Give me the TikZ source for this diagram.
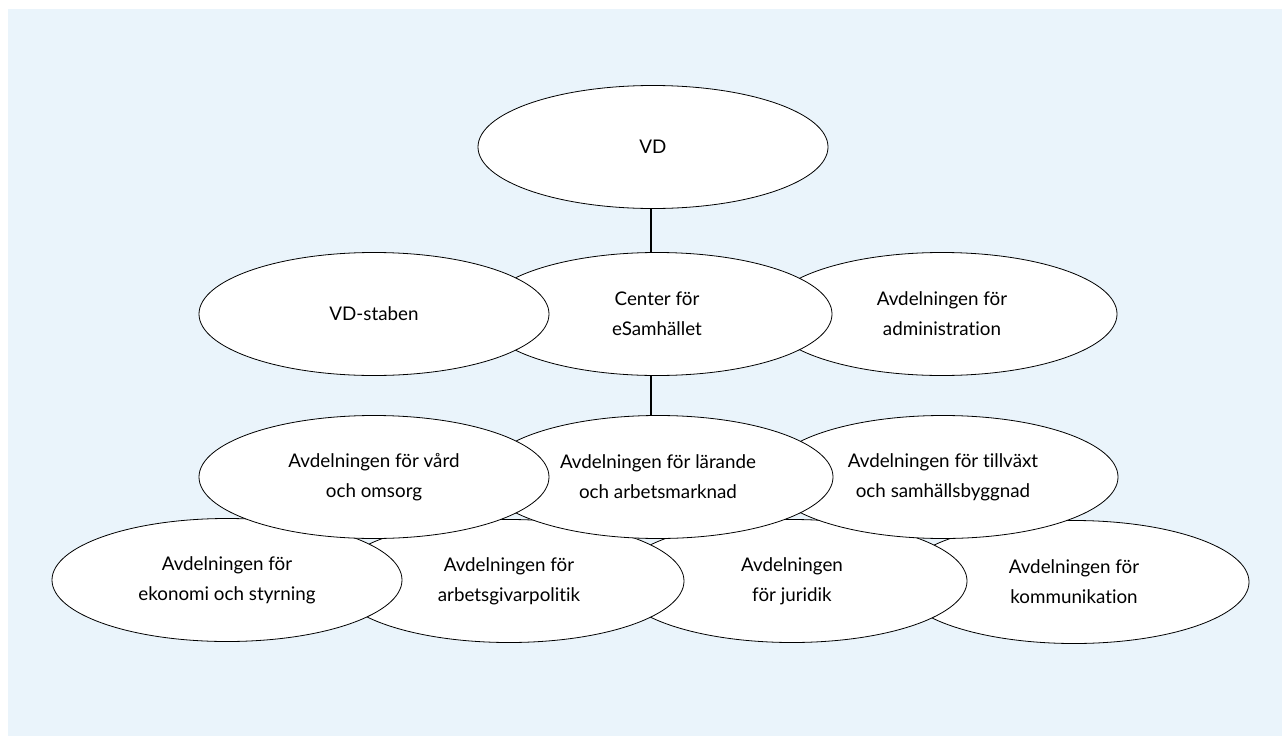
\documentclass[tikz,border=0pt]{standalone}
\usepackage{fontspec}
\setmainfont{Lato}[Ligatures=NoCommon]
\usetikzlibrary{shapes.geometric}
\definecolor{bgblue}{HTML}{EAF4FB}
\tikzset{
  unit/.style={ellipse, draw=black, line width=0.8pt, fill=white,
    minimum width=350pt, minimum height=123pt, inner sep=0pt,
    align=center, font=\fontsize{18.8}{30}\selectfont},
  link/.style={draw=black, line width=2pt}
}
\begin{document}
\begin{tikzpicture}[x=1pt,y=-1pt]
\useasboundingbox (0,0) rectangle (1282,736);
\fill[bgblue] (8,9) rectangle (1282,736);
% row 4 (drawn right to left, left ellipses on top)
\node[unit] (komm) at (1074,582) {Avdelningen för\\kommunikation};
\node[unit] (jur)  at (792,581) {Avdelningen\\för juridik};
\node[unit] (arb)  at (509,581) {Avdelningen för\\arbetsgivarpolitik};
\node[unit] (eko)  at (227,580) {Avdelningen för\\ekonomi och styrning};
% row 3
\node[unit] (till) at (943,477) {Avdelningen för tillväxt\\och samhällsbyggnad};
\node[unit] (lar)  at (658,477) {Avdelningen för lärande\\och arbetsmarknad};
\node[unit] (vard) at (374,477) {Avdelningen för vård\\och omsorg};
% row 2
\node[unit] (adm)  at (942,314) {Avdelningen för\\administration};
\node[unit] (cen)  at (657,314) {Center för\\eSamhället};
\node[unit] (stab) at (374,314) {VD-staben};
% row 1
\node[unit] (vd)   at (653,147) {VD};
% connectors
\coordinate (vdbot) at ([xshift=-2pt]vd.south);
\draw[link] (vdbot) -- (vdbot |- cen.north);
\coordinate (cenbot) at ([xshift=-6pt]cen.south);
\draw[link] (cenbot) -- (cenbot |- lar.north);
\end{tikzpicture}
\end{document}
